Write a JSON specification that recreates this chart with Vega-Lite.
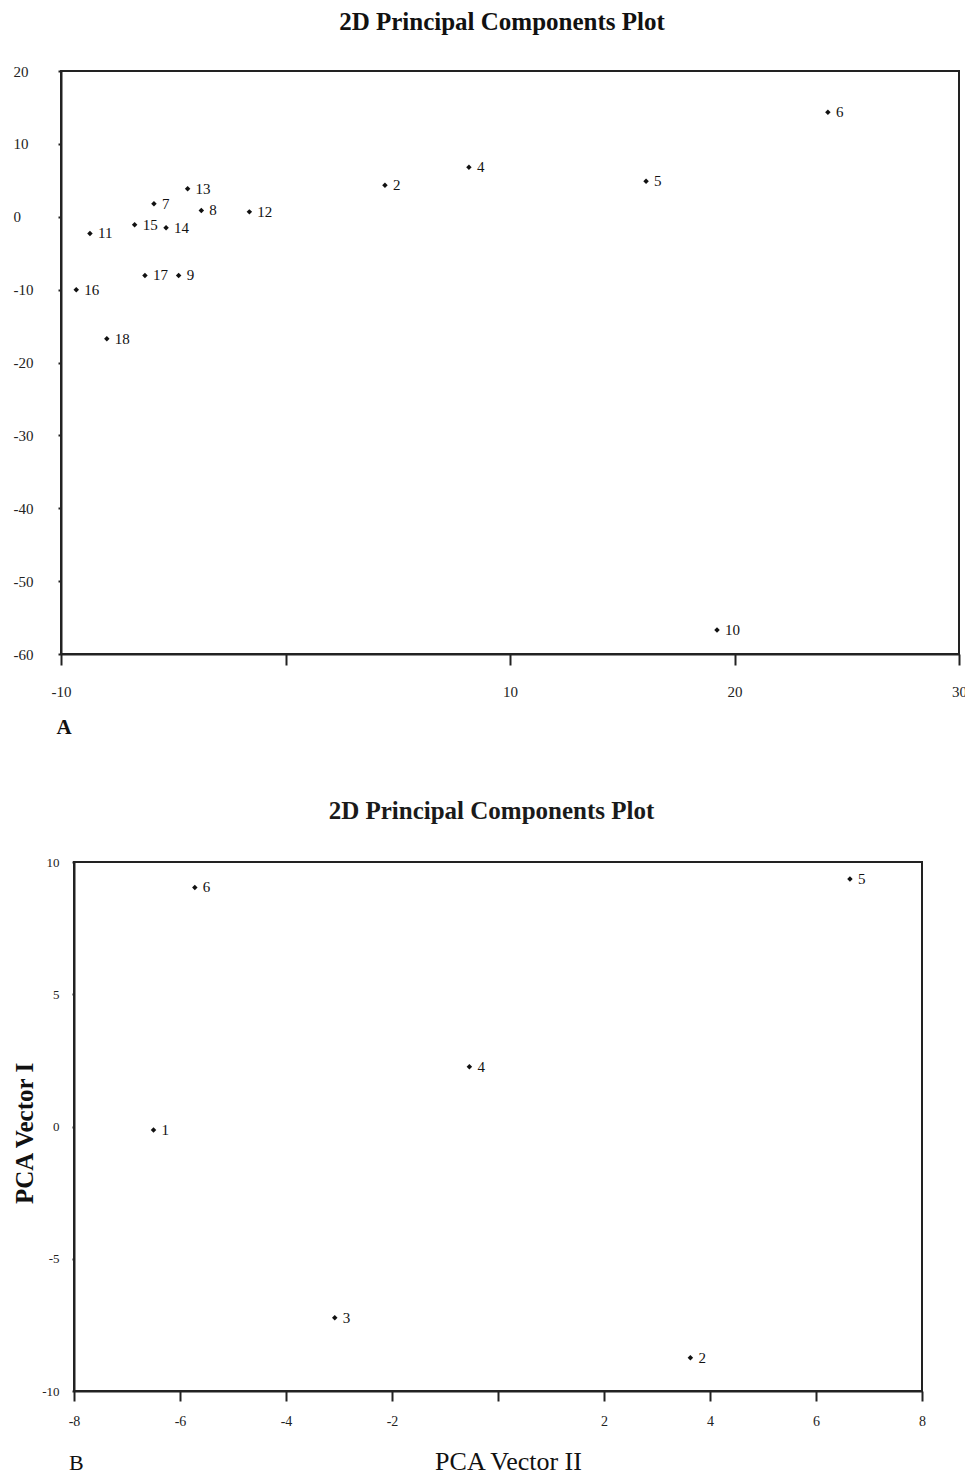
{
  "$schema": "https://vega.github.io/schema/vega-lite/v6.json",
  "background": "white",
  "padding": {"left": 12, "top": 9, "right": 0, "bottom": 0},
  "spacing": 61,
  "config": {
    "font": "Liberation Serif",
    "view": {"stroke": null},
    "axis": {
      "grid": false,
      "labelFont": "Liberation Serif",
      "titleFont": "Liberation Serif",
      "domainColor": "#222",
      "tickColor": "#222",
      "labelColor": "#222",
      "titleColor": "#111",
      "domainWidth": 2,
      "tickWidth": 2,
      "labelOverlap": false,
      "labelFlush": false
    }
  },
  "datasets": {
    "panelA": [
      {"id": "2", "x": 4.43, "y": 4.33},
      {"id": "4", "x": 8.17, "y": 6.8},
      {"id": "5", "x": 16.06, "y": 4.88},
      {"id": "6", "x": 24.16, "y": 14.35},
      {"id": "7", "x": -5.86, "y": 1.77},
      {"id": "8", "x": -3.75, "y": 0.86},
      {"id": "9", "x": -4.76, "y": -8.05},
      {"id": "10", "x": 19.22, "y": -56.7},
      {"id": "11", "x": -8.71, "y": -2.29},
      {"id": "12", "x": -1.61, "y": 0.67},
      {"id": "13", "x": -4.36, "y": 3.83},
      {"id": "14", "x": -5.32, "y": -1.52},
      {"id": "15", "x": -6.72, "y": -1.11},
      {"id": "16", "x": -9.32, "y": -10.03},
      {"id": "17", "x": -6.26, "y": -8.05},
      {"id": "18", "x": -7.96, "y": -16.75}
    ],
    "panelB": [
      {"id": "1", "x": -6.5, "y": -0.13},
      {"id": "2", "x": 3.63, "y": -8.74},
      {"id": "3", "x": -3.08, "y": -7.23},
      {"id": "4", "x": -0.54, "y": 2.26},
      {"id": "5", "x": 6.64, "y": 9.36},
      {"id": "6", "x": -5.72, "y": 9.04}
    ]
  },
  "vconcat": [
    {
      "width": 898,
      "height": 583,
      "title": {
        "text": "2D Principal Components Plot",
        "font": "Liberation Serif",
        "fontSize": 25,
        "fontWeight": "bold",
        "color": "#111",
        "offset": 9,
        "baseline": "alphabetic",
        "frame": "group",
        "anchor": "middle",
        "dx": -8
      },
      "view": {"stroke": "#222", "strokeWidth": 2},
      "data": {"name": "panelA"},
      "layer": [
        {
          "mark": {"type": "point", "shape": "diamond", "filled": true, "size": 30, "color": "#111", "opacity": 1},
          "encoding": {
            "x": {
              "field": "x", "type": "quantitative",
              "scale": {"domain": [-10, 30], "nice": false, "zero": false},
              "axis": {
                "values": [-10, 0, 10, 20, 30],
                "labelExpr": "datum.value == 0 ? '' : replace(datum.label, '\u2212', '-')",
                "tickSize": 11,
                "labelPadding": 19,
                "labelFontSize": 15,
                "title": "A",
                "titleFontSize": 21,
                "titleFontWeight": "bold",
                "titleAnchor": "start",
                "titleAlign": "left",
                "titleBaseline": "alphabetic",
                "titleX": -5,
                "titleY": 79
              }
            },
            "y": {
              "field": "y", "type": "quantitative",
              "scale": {"domain": [-60, 20], "nice": false, "zero": false},
              "axis": {
                "values": [-60, -50, -40, -30, -20, -10, 0, 10, 20],
                "labelExpr": "replace(datum.label, '\u2212', '-')",
                "tickSize": 3,
                "labelAlign": "left",
                "labelPadding": 45,
                "labelFontSize": 15,
                "title": null
              }
            }
          }
        },
        {
          "mark": {"type": "text", "align": "left", "baseline": "middle", "dx": 8, "fontSize": 15, "font": "Liberation Serif", "color": "#111"},
          "encoding": {
            "x": {"field": "x", "type": "quantitative"},
            "y": {"field": "y", "type": "quantitative"},
            "text": {"field": "id"}
          }
        }
      ]
    },
    {
      "width": 861,
      "height": 529,
      "title": {
        "text": "2D Principal Components Plot",
        "font": "Liberation Serif",
        "fontSize": 25,
        "fontWeight": "bold",
        "color": "#1a1a1a",
        "offset": 12,
        "baseline": "alphabetic",
        "frame": "group",
        "anchor": "middle"
      },
      "data": {"name": "panelB"},
      "layer": [
        {
          "mark": {"type": "point", "shape": "diamond", "filled": true, "size": 30, "color": "#111", "opacity": 1},
          "encoding": {
            "x": {
              "field": "x", "type": "quantitative",
              "scale": {"domain": [-8, 8], "nice": false, "zero": false, "range": [13, 861]},
              "axis": {
                "values": [-8, -6, -4, -2, 0, 2, 4, 6, 8],
                "labelExpr": "datum.value == 0 ? '' : replace(datum.label, '\u2212', '-')",
                "tickSize": 10,
                "labelPadding": 13,
                "labelFontSize": 14,
                "title": "PCA Vector II",
                "titleFontSize": 26,
                "titleFontWeight": "normal",
                "titleBaseline": "alphabetic",
                "titleX": 447,
                "titleY": 78
              }
            },
            "y": {
              "field": "y", "type": "quantitative",
              "scale": {"domain": [-10, 10], "nice": false, "zero": false},
              "axis": {
                "values": [-10, -5, 0, 5, 10],
                "labelExpr": "replace(datum.label, '\u2212', '-')",
                "offset": -13,
                "tickSize": 2,
                "labelPadding": 13,
                "labelFontSize": 13,
                "title": "PCA Vector I",
                "titleFontSize": 25,
                "titleFontWeight": "bold",
                "titleAngle": -90,
                "titleBaseline": "alphabetic",
                "titleAlign": "center",
                "titleX": -42,
                "titleY": 271
              }
            }
          }
        },
        {
          "mark": {"type": "text", "align": "left", "baseline": "middle", "dx": 8, "fontSize": 15, "font": "Liberation Serif", "color": "#111"},
          "encoding": {
            "x": {"field": "x", "type": "quantitative"},
            "y": {"field": "y", "type": "quantitative"},
            "text": {"field": "id"}
          }
        },
        {
          "data": {"values": [{"edge": "frame"}]},
          "mark": {"type": "rect", "filled": false, "stroke": "#222", "strokeWidth": 2},
          "encoding": {
            "x": {"datum": -8},
            "x2": {"datum": 8},
            "y": {"datum": -10},
            "y2": {"datum": 10}
          }
        },
        {
          "data": {"values": [{"label": "B"}]},
          "mark": {"type": "text", "align": "left", "baseline": "alphabetic", "dx": -5, "fontSize": 22, "font": "Liberation Serif", "color": "#111"},
          "encoding": {
            "x": {"datum": -8},
            "y": {"datum": -13},
            "text": {"field": "label"}
          }
        }
      ]
    }
  ]
}
